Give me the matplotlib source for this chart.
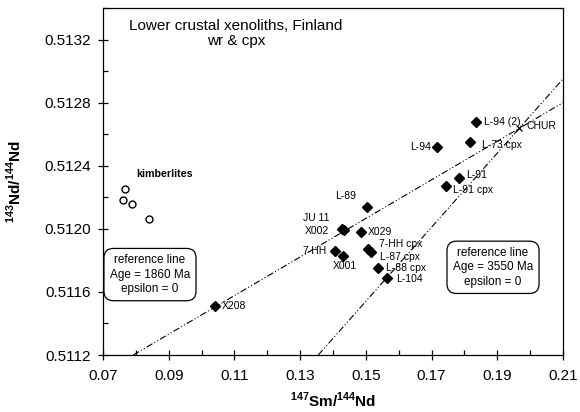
import matplotlib
matplotlib.use("Agg")
import matplotlib.pyplot as plt

plt.rcParams['font.family'] = ['Liberation Sans', 'DejaVu Sans']
plt.rcParams['mathtext.fontset'] = 'custom'
plt.rcParams['mathtext.rm'] = 'Liberation Sans'
plt.rcParams['mathtext.bf'] = 'Liberation Sans:bold'

# ---- data ----
sample_names = ["X208", "L-89", "JU 11", "X002", "X029", "7-HH", "X001",
                "7-HH cpx", "L-87 cpx", "L-88 cpx", "L-104", "L-91",
                "L-91 cpx", "L-94", "L-73 cpx", "L-94 (2)"]
sample_sm = [0.1041, 0.1503, 0.1428, 0.1434, 0.1484, 0.1405, 0.1429,
             0.1505, 0.1517, 0.1536, 0.1563, 0.1783,
             0.1744, 0.1718, 0.1817, 0.1836]
sample_nd = [0.51151, 0.51214, 0.51200, 0.51199, 0.51198, 0.51186, 0.51183,
             0.51187, 0.51185, 0.51175, 0.51169, 0.51232,
             0.51227, 0.51252, 0.51255, 0.51268]

kimb_sm = [0.0767, 0.0760, 0.0789, 0.0841]
kimb_nd = [0.51225, 0.51218, 0.51216, 0.51206]

chur_sm = [0.1967]
chur_nd = [0.51264]

# reference lines (end points)
ref1860_sm = [0.0792, 0.21]
ref1860_nd = [0.51120, 0.51280]
ref3550_sm = [0.1355, 0.21]
ref3550_nd = [0.51120, 0.51295]

# label placement (offset points, alignment)
label_pos = {
    "X208": (5, 0, "left"),
    "L-89": (-15, 7.6, "center"),
    "JU 11": (-19, 8, "center"),
    "X002": (-11, -0.7, "right"),
    "X029": (5.5, 0, "left"),
    "7-HH": (-5.8, 0, "right"),
    "X001": (1.6, -7.5, "center"),
    "7-HH cpx": (8.4, 3.6, "left"),
    "L-87 cpx": (6.3, -2.9, "left"),
    "L-88 cpx": (6, 0, "left"),
    "L-104": (6.7, -1.2, "left"),
    "L-91": (5.5, 2.4, "left"),
    "L-91 cpx": (4.8, -3, "left"),
    "L-94": (-5, 0, "right"),
    "L-73 cpx": (8.4, -2.4, "left"),
    "L-94 (2)": (5.5, 0, "left"),
}

fig = plt.figure(figsize=(5.8, 4.12), dpi=100)
ax = fig.add_axes([0.1776, 0.1383, 0.7931, 0.8423])

dash = (0, (6, 2, 1, 2, 1, 2))
ax.plot(ref1860_sm, ref1860_nd, color="black", lw=0.8, linestyle=dash)
ax.plot(ref3550_sm, ref3550_nd, color="black", lw=0.8, linestyle=dash)

ax.plot(sample_sm, sample_nd, linestyle="none", marker="D", ms=4.8,
        color="black")
ax.plot(kimb_sm, kimb_nd, linestyle="none", marker="o", ms=5,
        markerfacecolor="white", markeredgecolor="black", mew=1)
ax.plot(chur_sm, chur_nd, linestyle="none", marker="x", ms=4,
        color="black", mew=0.9)

for name, sx, sy in zip(sample_names, sample_sm, sample_nd):
    dx, dy, ha = label_pos[name]
    ax.annotate(name, (sx, sy), xytext=(dx, dy), textcoords="offset points",
                ha=ha, va="center", fontsize=7.5)
ax.annotate("CHUR", (chur_sm[0], chur_nd[0]), xytext=(5.3, 1.2),
            textcoords="offset points", ha="left", va="center", fontsize=7.5)

ax.text(0.0886, 0.51235, "kimberlites", ha="center", va="center",
        fontsize=7.7, fontweight="bold")
ax.text(0.1105, 0.51324, "Lower crustal xenoliths, Finland\nwr & cpx",
        ha="center", va="center", fontsize=11, linespacing=1.1)

box = dict(boxstyle="round,pad=0.5,rounding_size=0.8", fc="white",
           ec="black", lw=0.9)
ax.text(0.0843, 0.51171, "reference line\nAge = 1860 Ma\nepsilon = 0",
        ha="center", va="center", fontsize=8.5, bbox=box, linespacing=1.25)
ax.text(0.1887, 0.511756, "reference line\nAge = 3550 Ma\nepsilon = 0",
        ha="center", va="center", fontsize=8.5, bbox=box, linespacing=1.25)

ax.set_xlim(0.07, 0.21)
ax.set_ylim(0.5112, 0.5134)
ax.set_xticks([0.07, 0.09, 0.11, 0.13, 0.15, 0.17, 0.19, 0.21])
ax.set_xticks([0.08, 0.10, 0.12, 0.14, 0.16, 0.18, 0.20], minor=True)
ax.set_yticks([0.5112, 0.5116, 0.5120, 0.5124, 0.5128, 0.5132])
ax.set_yticks([0.5114, 0.5118, 0.5122, 0.5126, 0.5130, 0.5134], minor=True)
ax.set_xticklabels(["0.07", "0.09", "0.11", "0.13", "0.15", "0.17",
                    "0.19", "0.21"])
ax.set_yticklabels(["0.5112", "0.5116", "0.5120", "0.5124", "0.5128",
                    "0.5132"])
ax.tick_params(which="major", direction="inout", length=7, width=0.9,
               labelsize=11)
ax.tick_params(axis="x", which="major", pad=6.5)
ax.tick_params(axis="y", which="major", pad=5)
ax.tick_params(which="minor", direction="in", length=3.5, width=0.9)
for s in ax.spines.values():
    s.set_linewidth(0.9)

ax.set_xlabel(r"$^{\mathbf{147}}$Sm/$^{\mathbf{144}}$Nd", fontsize=11,
              fontweight="bold")
ax.set_ylabel(r"$^{\mathbf{143}}$Nd/$^{\mathbf{144}}$Nd", fontsize=11,
              fontweight="bold")
ax.xaxis.set_label_coords(0.5, -0.102)
ax.yaxis.set_label_coords(-0.172, 0.5)

fig.savefig("out.png", dpi=100)
